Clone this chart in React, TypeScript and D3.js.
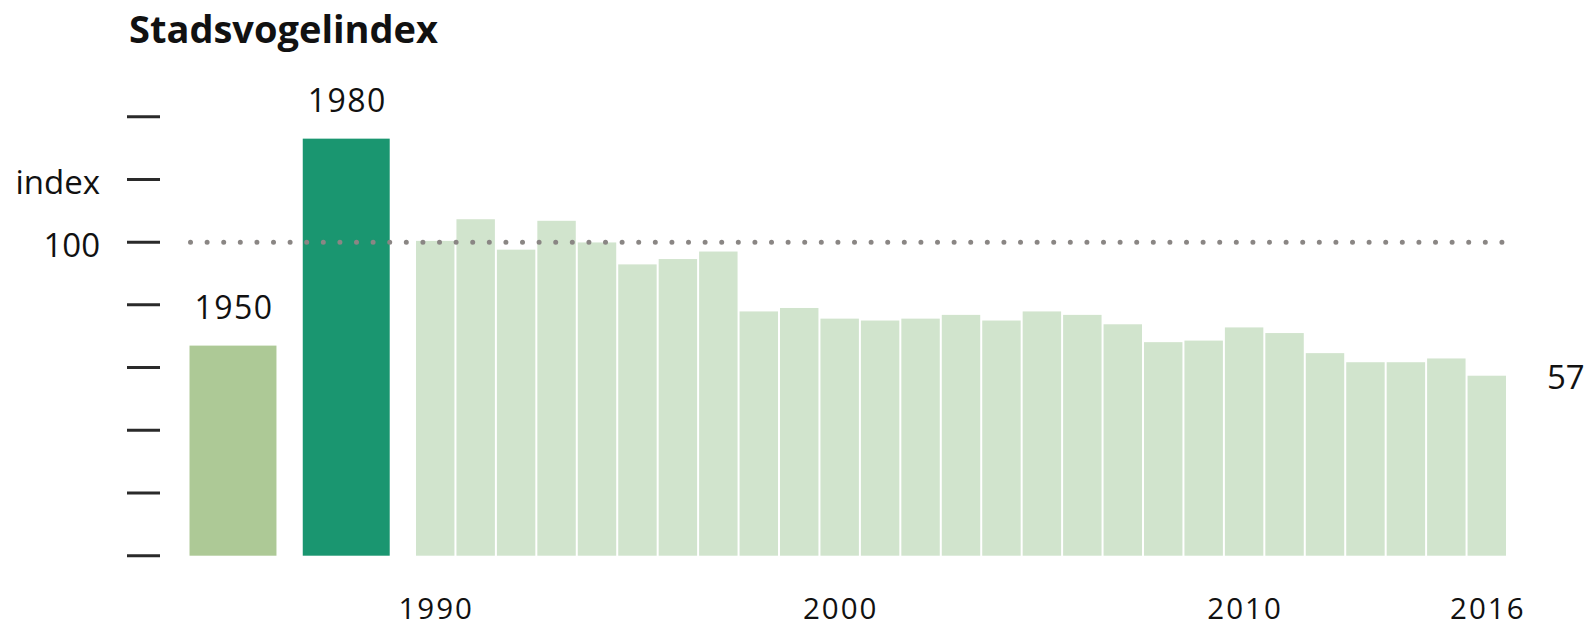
import React from "react";
import * as d3 from "d3";

const title = "Stadsvogelindex";
const historicLabels = ["1950", "1980"];
const historicValues = [67, 133];
const years = d3.range(1990, 2017).map(String);
const yearValues = [
  100.4, 107.3, 97.6, 106.8, 99.9, 92.9, 94.6, 97.0, 77.9, 79.0,
  75.6, 75.0, 75.6, 76.8, 75.0, 77.9, 76.8, 73.8, 68.1, 68.6,
  72.8, 71.0, 64.6, 61.7, 61.7, 62.9, 57.4,
];
const yTicks = [0, 20, 40, 60, 80, 100, 120, 140];
const yTickLabels: Record<number, string> = { 100: "100", 120: "index" };
const xTickYears = ["1990", "2000", "2010", "2016"];
const referenceValue = 100;

const W = 1591;
const H = 630;
const FONT = "'Open Sans', sans-serif";

export default function App() {
  const y = d3.scaleLinear().domain([0, 140]).range([555.7, 116.7]);
  const xu = d3.scaleLinear().domain([0, years.length]).range([416, 1508]);
  const histWidth = 2.15;
  const histGap = 0.65;
  const histColors = ["#adc996", "#1a9670"];

  const histBars = historicLabels.map((lab, i) => {
    const k = historicLabels.length - 1 - i;
    const right = -histGap - k * (histWidth + histGap);
    const x0 = xu(right - histWidth);
    const x1 = xu(right);
    return { lab, v: historicValues[i], x0, x1, color: histColors[i] };
  });

  const dotStart = histBars[0].x0 + 1;
  const dotEnd = xu(years.length) + 4;

  return (
    <svg
      width={W}
      height={H}
      style={{ position: "absolute", left: 0, top: 0, background: "#fff" }}
      fontFamily={FONT}
    >
      <text x={129} y={43} fontSize={38} fontWeight={700} fill="#111" letterSpacing={0}>
        {title}
      </text>

      {yTicks.map((t) => (
        <g key={t}>
          <line x1={127} x2={160} y1={y(t)} y2={y(t)} stroke="#2a2a2a" strokeWidth={3} />
          {yTickLabels[t] && (
            <text
              x={100}
              y={y(t)}
              textAnchor="end"
              dominantBaseline="central"
              fontSize={33}
              fontWeight={500}
              fill="#111"
              dy={2}
            >
              {yTickLabels[t]}
            </text>
          )}
        </g>
      ))}

      {histBars.map((b) => (
        <g key={b.lab}>
          <rect x={b.x0} y={y(b.v)} width={b.x1 - b.x0} height={y(0) - y(b.v)} fill={b.color} />
          <text
            x={(b.x0 + b.x1) / 2 + 1}
            y={y(b.v) - 27}
            textAnchor="middle"
            fontSize={32}
            fontWeight={500}
            fill="#111"
            letterSpacing={1.5}
          >
            {b.lab}
          </text>
        </g>
      ))}

      {years.map((yr, i) => (
        <rect
          key={yr}
          x={xu(i)}
          y={y(yearValues[i])}
          width={xu(i + 1) - xu(i) - 2}
          height={y(0) - y(yearValues[i])}
          fill="#d1e4cd"
        />
      ))}

      <line
        x1={dotStart}
        x2={dotEnd}
        y1={y(referenceValue)}
        y2={y(referenceValue)}
        stroke="#8a8684"
        strokeWidth={5}
        strokeLinecap="round"
        strokeDasharray="0 16.6"
      />

      {xTickYears.map((yr) => {
        const i = years.indexOf(yr);
        return (
          <text
            key={yr}
            x={(xu(i) + xu(i + 1) - 2) / 2 + 1}
            y={619}
            textAnchor="middle"
            fontSize={29.5}
            fontWeight={500}
            fill="#111"
            letterSpacing={2}
          >
            {yr}
          </text>
        );
      })}

      <text
        x={1547}
        y={y(yearValues[yearValues.length - 1])}
        dominantBaseline="central"
        fontSize={33}
        fontWeight={500}
        fill="#111"
        dy={1}
      >
        {d3.format(".0f")(yearValues[yearValues.length - 1])}
      </text>
    </svg>
  );
}
